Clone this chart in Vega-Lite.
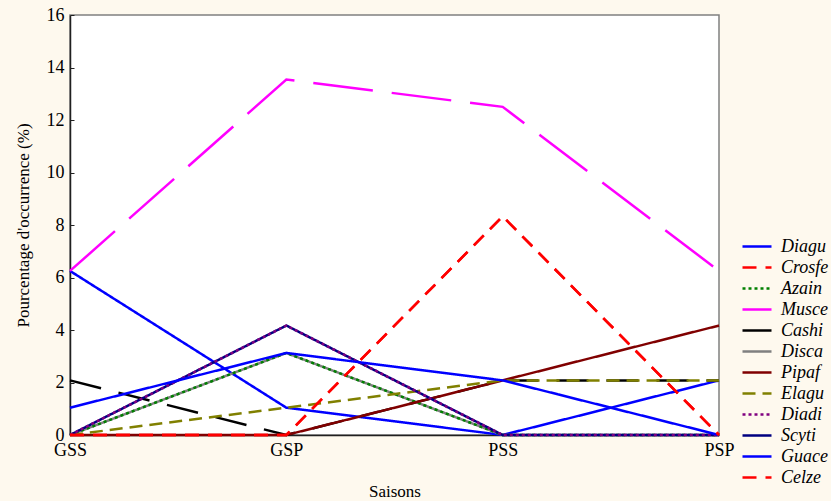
{
  "$schema": "https://vega.github.io/schema/vega-lite/v6.json",
  "width": 649,
  "height": 420,
  "autosize": {"type": "none"},
  "padding": {"left": 70, "top": 15, "right": 112, "bottom": 66},
  "background": "#fef9ee",
  "config": {
    "view": {"fill": "white", "stroke": "#808080", "strokeWidth": 1.5},
    "font": "Liberation Serif"
  },
  "data": {
    "values": [
      {"espece": "Diagu", "saison": "GSS", "pct": 6.25},
      {"espece": "Diagu", "saison": "GSP", "pct": 1.04},
      {"espece": "Diagu", "saison": "PSS", "pct": 0},
      {"espece": "Diagu", "saison": "PSP", "pct": 2.08},
      {"espece": "Musce", "saison": "GSS", "pct": 6.25},
      {"espece": "Musce", "saison": "GSP", "pct": 13.54},
      {"espece": "Musce", "saison": "PSS", "pct": 12.5},
      {"espece": "Musce", "saison": "PSP", "pct": 6.25},
      {"espece": "Cashi", "saison": "GSS", "pct": 2.08},
      {"espece": "Cashi", "saison": "GSP", "pct": 0},
      {"espece": "Cashi", "saison": "PSS", "pct": 2.08},
      {"espece": "Cashi", "saison": "PSP", "pct": 2.08},
      {"espece": "Disca", "saison": "GSS", "pct": 0},
      {"espece": "Disca", "saison": "GSP", "pct": 3.125},
      {"espece": "Disca", "saison": "PSS", "pct": 0},
      {"espece": "Disca", "saison": "PSP", "pct": 0},
      {"espece": "Azain", "saison": "GSS", "pct": 0},
      {"espece": "Azain", "saison": "GSP", "pct": 3.125},
      {"espece": "Azain", "saison": "PSS", "pct": 0},
      {"espece": "Azain", "saison": "PSP", "pct": 0},
      {"espece": "Pipaf", "saison": "GSS", "pct": 0},
      {"espece": "Pipaf", "saison": "GSP", "pct": 0},
      {"espece": "Pipaf", "saison": "PSS", "pct": 2.08},
      {"espece": "Pipaf", "saison": "PSP", "pct": 4.17},
      {"espece": "Elagu", "saison": "GSS", "pct": 0},
      {"espece": "Elagu", "saison": "GSP", "pct": 1.04},
      {"espece": "Elagu", "saison": "PSS", "pct": 2.08},
      {"espece": "Elagu", "saison": "PSP", "pct": 2.08},
      {"espece": "Scyti", "saison": "GSS", "pct": 0},
      {"espece": "Scyti", "saison": "GSP", "pct": 4.17},
      {"espece": "Scyti", "saison": "PSS", "pct": 0},
      {"espece": "Scyti", "saison": "PSP", "pct": 0},
      {"espece": "Diadi", "saison": "GSS", "pct": 0},
      {"espece": "Diadi", "saison": "GSP", "pct": 4.17},
      {"espece": "Diadi", "saison": "PSS", "pct": 0},
      {"espece": "Diadi", "saison": "PSP", "pct": 0},
      {"espece": "Guace", "saison": "GSS", "pct": 1.04},
      {"espece": "Guace", "saison": "GSP", "pct": 3.125},
      {"espece": "Guace", "saison": "PSS", "pct": 2.08},
      {"espece": "Guace", "saison": "PSP", "pct": 0},
      {"espece": "Crosfe", "saison": "GSS", "pct": 0},
      {"espece": "Crosfe", "saison": "GSP", "pct": 0},
      {"espece": "Crosfe", "saison": "PSS", "pct": 8.33},
      {"espece": "Crosfe", "saison": "PSP", "pct": 0},
      {"espece": "Celze", "saison": "GSS", "pct": 0},
      {"espece": "Celze", "saison": "GSP", "pct": 0},
      {"espece": "Celze", "saison": "PSS", "pct": 8.33},
      {"espece": "Celze", "saison": "PSP", "pct": 0}
    ]
  },
  "mark": {"type": "line", "strokeWidth": 2.5},
  "encoding": {
    "x": {
      "field": "saison",
      "type": "nominal",
      "sort": ["GSS", "GSP", "PSS", "PSP"],
      "scale": {"type": "point", "padding": 0},
      "axis": {
        "title": "Saisons",
        "titleFont": "Liberation Serif",
        "titleFontSize": 17,
        "titleFontWeight": "normal",
        "titleColor": "black",
        "titlePadding": 24,
        "labelFont": "Liberation Serif",
        "labelFontSize": 18,
        "labelColor": "black",
        "labelAngle": 0,
        "labelPadding": 6,
        "ticks": false,
        "domainColor": "#202020",
        "domainWidth": 1.5,
        "grid": false
      }
    },
    "y": {
      "field": "pct",
      "type": "quantitative",
      "scale": {"domain": [0, 16]},
      "axis": {
        "title": "Pourcentage d'occurrence (%)",
        "titleFont": "Liberation Serif",
        "titleFontSize": 17,
        "titleFontWeight": "normal",
        "titleColor": "black",
        "titlePadding": 14,
        "values": [0, 2, 4, 6, 8, 10, 12, 14, 16],
        "labelFont": "Liberation Serif",
        "labelFontSize": 18,
        "labelColor": "black",
        "labelPadding": 10,
        "tickSize": -4,
        "tickColor": "#202020",
        "domainColor": "#202020",
        "domainWidth": 1.5,
        "grid": false
      }
    },
    "color": {
      "field": "espece",
      "type": "nominal",
      "scale": {
        "domain": ["Diagu", "Crosfe", "Azain", "Musce", "Cashi", "Disca", "Pipaf", "Elagu", "Diadi", "Scyti", "Guace", "Celze"],
        "range": ["#0000ff", "#ff0000", "#008000", "#ff00ff", "#000000", "#808080", "#800000", "#808000", "#800080", "#000080", "#0000ff", "#ff0000"]
      },
      "legend": {
        "title": null,
        "orient": "none",
        "legendX": 671,
        "legendY": 221,
        "labelFont": "Liberation Serif",
        "labelFontStyle": "italic",
        "labelFontSize": 18,
        "labelColor": "black",
        "symbolSize": 841,
        "symbolStrokeWidth": 2.5,
        "labelOffset": 8,
        "clipHeight": 21,
        "rowPadding": 0
      }
    },
    "strokeDash": {
      "field": "espece",
      "type": "nominal",
      "scale": {
        "domain": ["Diagu", "Crosfe", "Azain", "Musce", "Cashi", "Disca", "Pipaf", "Elagu", "Diadi", "Scyti", "Guace", "Celze"],
        "range": [[1, 0], [14, 9], [3, 3], [60, 19], [32, 18], [1, 0], [1, 0], [13, 7], [3, 3], [1, 0], [1, 0], [14, 9]]
      },
      "legend": {
        "title": null,
        "orient": "none",
        "legendX": 671,
        "legendY": 221,
        "labelFont": "Liberation Serif",
        "labelFontStyle": "italic",
        "labelFontSize": 18,
        "labelColor": "black",
        "symbolSize": 841,
        "symbolStrokeWidth": 2.5,
        "labelOffset": 8,
        "clipHeight": 21,
        "rowPadding": 0
      }
    }
  }
}
